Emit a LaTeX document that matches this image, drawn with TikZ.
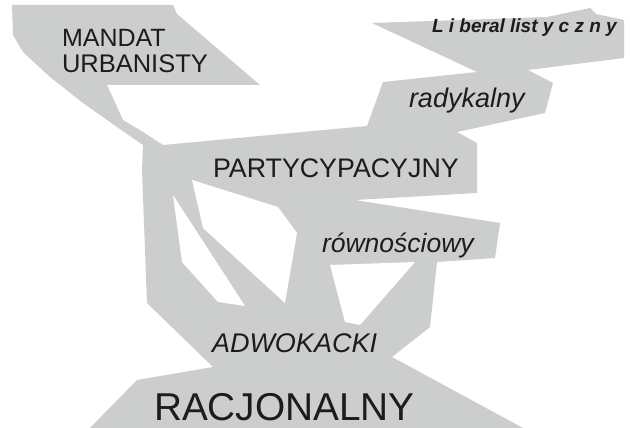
\documentclass[tikz,border=0pt]{standalone}
\usepackage{fontspec}
\setmainfont{Liberation Sans}
\definecolor{bandgray}{RGB}{204,205,205}
\definecolor{ink}{RGB}{28,28,28}
\begin{document}
\begin{tikzpicture}[x=1pt,y=-1pt,
  lbl/.style={anchor=base west,inner sep=0pt,outer sep=0pt,text=ink},
  hole/.style={fill=white,draw=none}]
\useasboundingbox[fill=white] (0,0) rectangle (630,428);
% main grey shape
\fill[bandgray] (12,5) -- (173,5) -- (177,14) -- (260,85) -- (107,85) -- (123,120)
  -- (143,132) -- (163,145) -- (367,126) -- (383,82) -- (477,72) -- (372,23)
  -- (547,17) -- (590,8) -- (596,14) -- (624,20) -- (624,58) -- (528,70)
  -- (553,83) -- (545,113) -- (457,132) -- (477,143) -- (477,193) -- (355,200)
  -- (500,223) -- (495,258) -- (437,262) -- (430,327) -- (392,357) -- (523,428)
  -- (90,428) -- (137,380) -- (213,367) -- (147,303) -- (142,170) -- (143,145)
  -- (117,127) -- (83,103) -- (50,77) -- (23,52) -- (13,35) -- cycle;
% holes
\fill[hole] (173,195) -- (182,262) -- (218,302) -- (245,306) -- cycle;
\fill[hole] (192,180) -- (278,207) -- (297,233) -- (285,303) -- (203,228) -- cycle;
\fill[hole] (330,265) -- (415,262) -- (360,325) -- (345,322) -- cycle;
% labels
\node[lbl,font=\fontsize{25}{25}\selectfont] (mandat) at (62,47) {MANDAT};
\node[lbl,font=\fontsize{25.5}{25.5}\selectfont] (urban) at (62,73) {URBANISTY};
\node[lbl,font=\fontsize{19}{19}\selectfont\bfseries\itshape] (liberal) at (432,33) {L i beral list y c z n y};
\node[lbl,font=\fontsize{27}{27}\selectfont\itshape] (radyk) at (409,107) {radykalny};
\node[lbl,font=\fontsize{26.8}{26.8}\selectfont] (party) at (213,177) {PARTYCYPACYJNY};
\node[lbl,font=\fontsize{26.5}{26.5}\selectfont\itshape] (rown) at (322,252) {równościowy};
\node[lbl,font=\fontsize{27}{27}\selectfont\itshape] (adwok) at (212,352) {ADWOKACKI};
\node[lbl,font=\fontsize{38.8}{38.8}\selectfont,text depth=0pt] (racjo) at (154,420) {RACJONALNY};
\end{tikzpicture}
\end{document}
